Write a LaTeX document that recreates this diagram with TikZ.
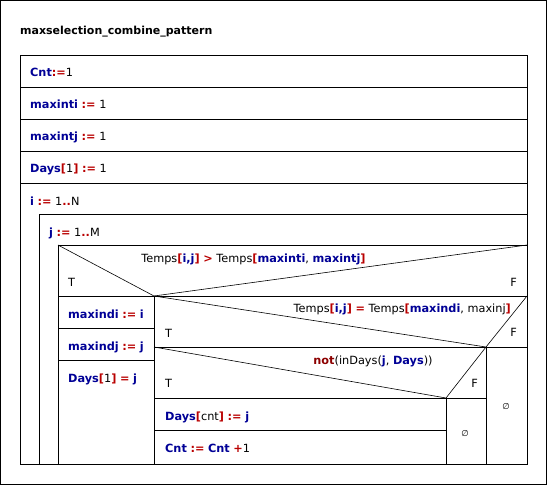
\documentclass[tikz,border=0pt]{standalone}
\usepackage{fontspec}
\setmainfont{DejaVu Sans}
\usepackage{xcolor}
\definecolor{kwblue}{RGB}{0,0,150}
\definecolor{opred}{RGB}{185,0,0}
\definecolor{notred}{RGB}{140,0,0}
\newcommand\kwb[1]{\textcolor{kwblue}{\bfseries #1}}
\newcommand\opr[1]{\textcolor{opred}{\bfseries #1}}
\newcommand\nkw[1]{\textcolor{notred}{\bfseries #1}}
\begin{document}
\begin{tikzpicture}[x=1pt,y=-1pt,
  box/.style={line width=0.8pt},
  thin/.style={line width=0.6pt},
  lbl/.style={anchor=base west,inner sep=0pt,font=\fontsize{11.3}{13}\selectfont},
  rlbl/.style={anchor=base east,inner sep=0pt,font=\fontsize{11.3}{13}\selectfont},
  clbl/.style={anchor=base,inner sep=0pt,font=\fontsize{11.3}{13}\selectfont},
  empty/.style={inner sep=0pt,font=\fontsize{8.5}{9}\selectfont}]
\useasboundingbox (0,0) rectangle (548,485);
% outer frame
\draw[box] (0.5,0.5) rectangle (546.7,484.3);
\node[lbl,font=\fontsize{11}{13}\selectfont\bfseries] (title) at (20,34) {maxselection\_combine\_pattern};
% main box
\draw[box] (20,55) rectangle (527,464);
\foreach \y in {87,119,151,183} \draw[box] (20,\y) -- (527,\y);
% loops
\draw[box] (39,464) -- (39,214) -- (527,214);
\draw[box] (58,464) -- (58,245) -- (527,245);
% if 1
\draw[thin] (58,245) -- (154,296) -- (527,245);
\draw[box] (58,296) -- (527,296);
\draw[box] (154,296) -- (154,464);
\draw[box] (58,328) -- (154,328);
\draw[box] (58,360) -- (154,360);
% if 2
\draw[thin] (154,296) -- (486,347) -- (527,296);
\draw[box] (154,347) -- (527,347);
\draw[box] (486,347) -- (486,464);
% if 3
\draw[thin] (154,347) -- (446,398) -- (486,347);
\draw[box] (154,398) -- (486,398);
\draw[box] (446,398) -- (446,464);
\draw[box] (154,430) -- (446,430);
% texts
\node[lbl] (s1) at (30,76) {\kwb{Cnt}\opr{:=}1};
\node[lbl] (s2) at (30,108) {\kwb{maxinti} \opr{:=} 1};
\node[lbl] (s3) at (30,140) {\kwb{maxintj} \opr{:=} 1};
\node[lbl] (s4) at (30,172) {\kwb{Days}\opr{[}1\opr{]} \opr{:=} 1};
\node[lbl] (l1) at (30,205) {\kwb{i} \opr{:=} 1\opr{..}N};
\node[lbl] (l2) at (49,236) {\kwb{j} \opr{:=} 1\opr{..}M};
\node[clbl] (c1) at (253.5,262) {Temps\opr{[}\kwb{i,j}\opr{]} \opr{>} Temps\opr{[}\kwb{maxinti}, \kwb{maxintj}\opr{]}};
\node[lbl] (t1) at (68,286) {T};
\node[rlbl] (f1) at (517,286) {F};
\node[lbl] (a1) at (68,318) {\kwb{maxindi} \opr{:=} \kwb{i}};
\node[lbl] (a2) at (68,350) {\kwb{maxindj} \opr{:=} \kwb{j}};
\node[lbl] (a3) at (68,382) {\kwb{Days}\opr{[}1\opr{]} \opr{=} \kwb{j}};
\node[rlbl] (c2) at (511,312) {Temps\opr{[}\kwb{i,j}\opr{]} \opr{=} Temps\opr{[}\kwb{maxindi}, maxinj\opr{]}};
\node[lbl] (t2) at (165,337) {T};
\node[rlbl] (f2) at (517,336) {F};
\node[clbl] (c3) at (373,364) {\nkw{not}(inDays(\kwb{j}, \kwb{Days}))};
\node[lbl] (t3) at (165,387) {T};
\node[rlbl] (f3) at (478,387) {F};
\node[lbl] (b1) at (165,420) {\kwb{Days}\opr{[}cnt\opr{]} \opr{:=} \kwb{j}};
\node[lbl] (b2) at (165,452) {\kwb{Cnt} \opr{:=} \kwb{Cnt} \opr{+}1};
\node[empty] (e1) at (465,434) {∅};
\node[empty] (e2) at (506,407) {∅};
\end{tikzpicture}
\end{document}
